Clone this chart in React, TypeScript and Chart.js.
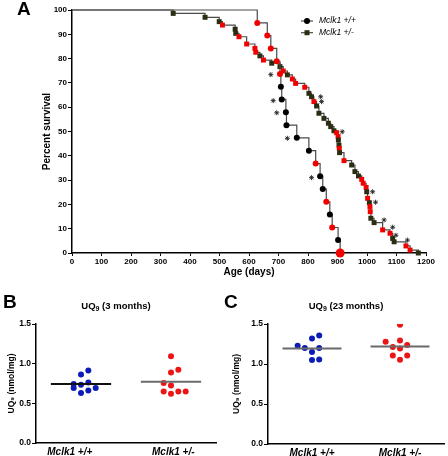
import React, { useEffect, useRef } from "react";
import { Chart, registerables } from "chart.js";

Chart.register(...registerables);

const FONT = "'Liberation Sans', Arial, Helvetica, sans-serif";

// ---------------- Panel A : survival ----------------
const seriesNames = ["Mclk1 +/+", "Mclk1 +/-"];
const ageRange = [0, 1200];
const ageStep = 100;
const survRange = [0, 100];
const survStep = 10;

const wtDays = [628, 662, 674, 694, 705, 708, 711, 725, 727, 762, 803, 826, 841, 850, 862, 874, 882, 902, 909];
const wtSurvival = [94.7, 89.5, 84.2, 78.9, 73.7, 68.4, 63.2, 57.9, 52.6, 47.4, 42.1, 36.8, 31.6, 26.3, 21.1, 15.8, 10.5, 5.3, 0];
const wtSubgroup = [1, 1, 1, 1, 1, 0, 0, 0, 0, 0, 0, 1, 0, 0, 1, 0, 1, 0, 1];

const hetDays = [343, 451, 499, 510, 553, 555, 566, 592, 620, 623, 637, 649, 677, 705, 716, 730, 747, 758, 789, 803, 812, 820, 829, 837, 854, 869, 877, 888, 897, 902, 903, 905, 906, 907, 922, 948, 959, 971, 982, 987, 997, 999, 1002, 1008, 1010, 1011, 1013, 1024, 1053, 1078, 1087, 1092, 1132, 1146, 1174];
const hetSurvival = [98.6, 97.0, 95.2, 93.8, 92.1, 90.4, 89.0, 86.0, 84.2, 82.6, 81.1, 79.4, 78.1, 76.7, 74.9, 73.3, 71.6, 69.8, 68.2, 65.7, 64.3, 62.3, 60.5, 57.5, 55.4, 53.4, 52.0, 50.3, 49.5, 47.9, 46.5, 44.4, 43.1, 41.3, 38.0, 36.2, 33.5, 31.7, 30.3, 28.7, 27.0, 25.2, 22.5, 20.7, 19.1, 17.0, 14.3, 12.5, 9.5, 8.1, 6.0, 4.6, 2.9, 1.2, 0];
const hetSubgroup = [0, 0, 0, 1, 0, 0, 1, 1, 1, 1, 0, 1, 0, 0, 1, 0, 1, 1, 1, 0, 0, 1, 0, 0, 0, 0, 0, 0, 1, 1, 0, 0, 1, 0, 1, 0, 0, 0, 1, 1, 1, 0, 1, 0, 1, 1, 0, 0, 1, 1, 0, 0, 1, 1, 0];

const wtStarDays = [674, 682, 694, 730, 812];
const wtStarPct = [73.4, 62.7, 57.7, 47.2, 31.0];
const hetStarDays = [843, 846, 916, 1019, 1029, 1058, 1087, 1098, 1137];
const hetStarPct = [64.3, 62.3, 49.9, 25.2, 20.9, 13.6, 10.6, 7.3, 5.3];

// ---------------- Panels B and C : UQ9 ----------------
const groupLabels = ["Mclk1 +/+", "Mclk1 +/-"];
const uqRange = [0, 1.5];
const uqStep = 0.5;

const uq3mWt = [0.862, 0.915, 0.744, 0.735, 0.764, 0.693, 0.63, 0.663, 0.693];
const uq3mWtSlot = [0, 1, -1, 0, 1, -1, 0, 1, 2];
const uq3mHet = [1.092, 0.89, 0.924, 0.756, 0.726, 0.65, 0.621, 0.65, 0.65];
const uq3mHetSlot = [0, 0, 1, -1, 0, -1, 0, 1, 2];

const uq23mWt = [1.228, 1.199, 1.32, 1.357, 1.149, 1.199, 1.049, 1.056];
const uq23mWtSlot = [-2, -1, 0, 1, 0, 1, 0, 1];
const uq23mHet = [1.491, 1.278, 1.294, 1.212, 1.194, 1.237, 1.107, 1.107, 1.053];
const uq23mHetSlot = [0, -2, 0, -1, 0, 1, -1, 1, 0];

// ---------------- styles ----------------
const RED = "#f20000";
const BLACK = "#000000";
const OLIVE = "#2c2c12";
const LINE = "#4a4a4a";
const BLUE = "#0d1cb5";
const DOT_RED = "#ec1515";

const mean = (a: number[]) => a.reduce((s, v) => s + v, 0) / a.length;

const legendPlugin = {
  id: "kmLegend",
  afterDraw(chart: any) {
    const ctx = chart.ctx as CanvasRenderingContext2D;
    const items = [
      { label: seriesNames[0], color: BLACK, style: "circle" },
      { label: seriesNames[1], color: OLIVE, style: "rect" },
    ];
    items.forEach((it, i) => {
      const y = 21 + i * 11.7;
      ctx.save();
      ctx.strokeStyle = LINE;
      ctx.lineWidth = 1.2;
      ctx.beginPath();
      ctx.moveTo(301, y);
      ctx.lineTo(313, y);
      ctx.stroke();
      ctx.fillStyle = it.color;
      if (it.style === "circle") {
        ctx.beginPath();
        ctx.arc(307, y, 3, 0, Math.PI * 2);
        ctx.fill();
      } else {
        ctx.fillRect(304.5, y - 2.5, 5, 5);
      }
      ctx.fillStyle = "#000";
      ctx.font = `italic 8.5px ${FONT}`;
      ctx.textBaseline = "middle";
      ctx.textAlign = "left";
      ctx.fillText(it.label, 319, y);
      ctx.restore();
    });
  },
};

function survivalConfig(): any {
  const wtPts = [{ x: ageRange[0], y: survRange[1] }, ...wtDays.map((d, i) => ({ x: d, y: wtSurvival[i] }))];
  const hetPts = [{ x: ageRange[0], y: survRange[1] }, ...hetDays.map((d, i) => ({ x: d, y: hetSurvival[i] }))];
  const wtColors = ["rgba(0,0,0,0)", ...wtSubgroup.map((g) => (g ? RED : BLACK))];
  const hetColors = ["rgba(0,0,0,0)", ...hetSubgroup.map((g) => (g ? RED : OLIVE))];
  const wtRadius = [0, ...wtDays.map((_, i) => (i === wtDays.length - 1 ? 4.5 : 3))];
  const hetRadius = [0, ...hetDays.map(() => 3.5)];
  const tickFont = { family: FONT, size: 8, weight: "bold" as const };
  const titleFont = { family: FONT, size: 10, weight: "bold" as const };
  return {
    type: "line",
    data: {
      datasets: [
        {
          label: seriesNames[0],
          data: wtPts,
          stepped: true,
          borderColor: LINE,
          borderWidth: 1.2,
          pointStyle: "circle",
          pointRadius: wtRadius,
          pointBackgroundColor: wtColors,
          pointBorderColor: wtColors,
          pointBorderWidth: 0,
          fill: false,
          clip: false,
        },
        {
          label: seriesNames[1],
          data: hetPts,
          stepped: true,
          borderColor: LINE,
          borderWidth: 1.2,
          pointStyle: "rect",
          pointRadius: hetRadius,
          pointBackgroundColor: hetColors,
          pointBorderColor: hetColors,
          pointBorderWidth: 0,
          fill: false,
          clip: false,
        },
        {
          label: "wt *",
          data: wtStarDays.map((d, i) => ({ x: d, y: wtStarPct[i] })),
          showLine: false,
          pointStyle: "star",
          pointRadius: 2.5,
          pointBorderColor: "#222",
          pointBorderWidth: 0.9,
          clip: false,
        },
        {
          label: "het *",
          data: hetStarDays.map((d, i) => ({ x: d, y: hetStarPct[i] })),
          showLine: false,
          pointStyle: "star",
          pointRadius: 2.5,
          pointBorderColor: "#222",
          pointBorderWidth: 0.9,
          clip: false,
        },
      ],
    },
    options: {
      responsive: false,
      animation: false,
      events: [],
      layout: { padding: { top: 10, right: 22, left: 0, bottom: 0 } },
      plugins: { legend: { display: false }, tooltip: { enabled: false } },
      scales: {
        x: {
          type: "linear",
          min: ageRange[0],
          max: ageRange[1],
          ticks: {
            stepSize: ageStep,
            autoSkip: false,
            maxRotation: 0,
            font: tickFont,
            color: "#000",
            padding: 1,
            callback: (v: any) => String(v),
          },
          grid: { drawOnChartArea: false, drawTicks: true, tickLength: 3, color: "#000", tickColor: "#000", lineWidth: 1 },
          border: { display: true, color: "#000", width: 1.5 },
          title: { display: true, text: "Age (days)", font: titleFont, color: "#000", padding: { top: 0, bottom: 7 } },
          afterFit: (s: any) => {
            s.height = 32;
          },
        },
        y: {
          type: "linear",
          min: survRange[0],
          max: survRange[1],
          ticks: { stepSize: survStep, font: tickFont, color: "#000", padding: 1, callback: (v: any) => String(v) },
          grid: { drawOnChartArea: false, drawTicks: true, tickLength: 4, color: "#000", tickColor: "#000", lineWidth: 1 },
          border: { display: true, color: "#000", width: 1.5 },
          title: { display: true, text: "Percent survival", font: titleFont, color: "#000", padding: { top: 41, bottom: 0 } },
          afterFit: (s: any) => {
            s.width = 72;
          },
        },
      },
    },
    plugins: [legendPlugin],
  };
}

function uqConfig(
  wt: number[],
  wtSlot: number[],
  het: number[],
  hetSlot: number[],
  labelPos: number[],
  yTitlePad: number,
  yWidth: number,
  xHeight: number,
  padRight: number,
  wtLineColor: string
): any {
  const cols = [1, 3];
  const slotW = 0.163;
  const half = 0.67;
  const mWt = mean(wt);
  const mHet = mean(het);
  return {
    type: "scatter",
    data: {
      datasets: [
        {
          data: [
            { x: cols[0] - half, y: mWt },
            { x: cols[0] + half, y: mWt },
          ],
          showLine: true,
          borderColor: wtLineColor,
          borderWidth: 2,
          pointRadius: 0,
        },
        {
          data: [
            { x: cols[1] - half, y: mHet },
            { x: cols[1] + half, y: mHet },
          ],
          showLine: true,
          borderColor: "#6a6a6a",
          borderWidth: 2,
          pointRadius: 0,
        },
        {
          data: wt.map((v, i) => ({ x: cols[0] + wtSlot[i] * slotW, y: v })),
          pointRadius: 3,
          pointBackgroundColor: BLUE,
          pointBorderWidth: 0,
        },
        {
          data: het.map((v, i) => ({ x: cols[1] + hetSlot[i] * slotW, y: v })),
          pointRadius: 3,
          pointBackgroundColor: DOT_RED,
          pointBorderWidth: 0,
        },
      ],
    },
    options: {
      responsive: false,
      animation: false,
      events: [],
      layout: { padding: { top: 34, right: padRight, left: 0, bottom: 0 } },
      plugins: { legend: { display: false }, tooltip: { enabled: false } },
      scales: {
        x: {
          type: "linear",
          min: 0,
          max: 4,
          afterBuildTicks: (s: any) => {
            s.ticks = labelPos.map((v) => ({ value: v }));
          },
          ticks: {
            autoSkip: false,
            maxRotation: 0,
            padding: 3,
            color: "#000",
            font: { family: FONT, size: 10, weight: "bold" as const, style: "italic" as const },
            callback: (_v: any, i: number) => groupLabels[i],
          },
          grid: { drawOnChartArea: false, drawTicks: false },
          border: { display: true, color: "#000", width: 1.5 },
          afterFit: (s: any) => {
            s.height = xHeight;
          },
        },
        y: {
          type: "linear",
          min: uqRange[0],
          max: uqRange[1],
          ticks: {
            stepSize: uqStep,
            color: "#000",
            padding: 1,
            font: { family: FONT, size: 8.5, weight: "bold" as const },
            callback: (v: any) => Number(v).toFixed(1),
          },
          grid: { drawOnChartArea: false, drawTicks: true, tickLength: 4, color: "#000", tickColor: "#000" },
          border: { display: true, color: "#000", width: 1.5 },
          title: {
            display: true,
            text: "UQ\u2089 (nmol/mg)",
            color: "#000",
            font: { family: FONT, size: 8.5, weight: "bold" as const },
            padding: { top: yTitlePad, bottom: 0 },
          },
          afterFit: (s: any) => {
            s.width = yWidth;
          },
        },
      },
    },
  };
}

const letterStyle: React.CSSProperties = {
  position: "absolute",
  fontFamily: FONT,
  fontWeight: "bold",
  fontSize: 19,
  lineHeight: "19px",
  color: "#000",
  whiteSpace: "nowrap",
};

const panelTitleStyle: React.CSSProperties = {
  position: "absolute",
  fontFamily: FONT,
  fontWeight: "bold",
  fontSize: 9.5,
  lineHeight: "10px",
  color: "#000",
  whiteSpace: "nowrap",
  transform: "translateX(-50%)",
};

const subStyle: React.CSSProperties = { fontSize: 7, verticalAlign: "-2px", lineHeight: 0 };

export default function App() {
  const aRef = useRef<HTMLCanvasElement>(null);
  const bRef = useRef<HTMLCanvasElement>(null);
  const cRef = useRef<HTMLCanvasElement>(null);

  useEffect(() => {
    const charts: Chart[] = [];
    if (aRef.current) charts.push(new Chart(aRef.current, survivalConfig()));
    if (bRef.current)
      charts.push(
        new Chart(
          bRef.current,
          uqConfig(uq3mWt, uq3mWtSlot, uq3mHet, uq3mHetSlot, [0.75, 3.05], 7, 36, 13, 8, "#111111")
        )
      );
    if (cRef.current)
      charts.push(
        new Chart(
          cRef.current,
          uqConfig(uq23mWt, uq23mWtSlot, uq23mHet, uq23mHetSlot, [1, 3], 8, 44, 12, 2, "#6a6a6a")
        )
      );
    return () => charts.forEach((c) => c.destroy());
  }, []);

  return (
    <div style={{ position: "absolute", left: 0, top: 0, width: 448, height: 456, background: "#fff", overflow: "hidden" }}>
      <canvas ref={aRef} width={448} height={285} style={{ position: "absolute", left: 0, top: 0 }} />
      <canvas ref={bRef} width={224} height={166} style={{ position: "absolute", left: 0, top: 290 }} />
      <canvas ref={cRef} width={224} height={166} style={{ position: "absolute", left: 224, top: 290 }} />
      <div style={{ ...letterStyle, left: 17, top: -1 }}>A</div>
      <div style={{ ...letterStyle, left: 3, top: 292 }}>B</div>
      <div style={{ ...letterStyle, left: 224, top: 292 }}>C</div>
      <div style={{ ...panelTitleStyle, left: 116, top: 300.5 }}>
        UQ<sub style={subStyle}>9</sub> (3 months)
      </div>
      <div style={{ ...panelTitleStyle, left: 346, top: 300.5 }}>
        UQ<sub style={subStyle}>9</sub> (23 months)
      </div>
    </div>
  );
}
